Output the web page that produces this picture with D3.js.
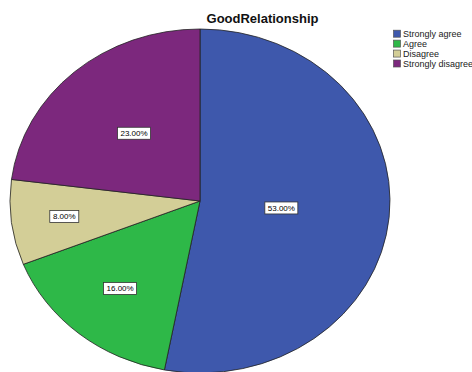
<!DOCTYPE html>
<html>
<head>
<meta charset="utf-8">
<script src="https://cdn.jsdelivr.net/npm/d3@7"></script>
<style>
  html, body { margin: 0; padding: 0; background: #fff; }
  svg { display: block; }
</style>
</head>
<body>
<svg id="chart" width="472" height="372"></svg>
<script>
// Responses to "GoodRelationship"
const categories = ["Strongly agree", "Agree", "Disagree", "Strongly disagree"];
const percents = [53, 16, 8, 23];
const colors = ["#3E58AC", "#2EB848", "#D3CE97", "#7C287D"];
const title = "GoodRelationship";

const svg = d3.select("#chart");
const W = 472, H = 372;
const cx = 200, cy = 201, rx = 190, ry = 172;

// distance of each value label from the centre, as a share of the radius
const labelRadius = [0.43, 0.66, 0.72, 0.525];

const data = categories.map((c, i) => ({ category: c, value: percents[i], color: colors[i], lr: labelRadius[i] }));

const pie = d3.pie().sort(null).value(d => d.value).startAngle(0).endAngle(2 * Math.PI);
const arcs = pie(data);
const arc = d3.arc().innerRadius(0).outerRadius(rx);

// pie drawn as a circle and squashed vertically into an ellipse
const pieG = svg.append("g")
  .attr("transform", `translate(${cx},${cy}) scale(1,${ry / rx})`);

pieG.selectAll("path")
  .data(arcs)
  .enter().append("path")
  .attr("d", arc)
  .attr("fill", d => d.data.color)
  .attr("stroke", "#222")
  .attr("stroke-width", 0.8)
  .attr("vector-effect", "non-scaling-stroke");

// value labels in white boxes
const fmt = d3.format(".2f");
const labels = svg.append("g").selectAll("g")
  .data(arcs)
  .enter().append("g")
  .attr("transform", d => {
    const a = (d.startAngle + d.endAngle) / 2;
    const x = cx + Math.sin(a) * rx * d.data.lr;
    const y = cy - Math.cos(a) * ry * d.data.lr;
    return `translate(${x},${y})`;
  });

labels.each(function(d) {
  const g = d3.select(this);
  const rect = g.append("rect");
  const t = g.append("text")
    .attr("text-anchor", "middle")
    .attr("dy", "0.35em")
    .attr("font-family", "Liberation Sans, Arial, sans-serif")
    .attr("font-size", 8)
    .attr("fill", "#000")
    .text(fmt(d.data.value) + "%");
  const bb = t.node().getBBox();
  const w = Math.round(bb.width) + 6, h = 12;
  rect.attr("x", -w / 2).attr("y", -h / 2)
    .attr("width", w).attr("height", h)
    .attr("fill", "#fff")
    .attr("stroke", "#333")
    .attr("stroke-width", 0.8);
});

// title
svg.append("text")
  .attr("x", 262.5)
  .attr("y", 23)
  .attr("text-anchor", "middle")
  .attr("font-family", "Liberation Sans, Arial, sans-serif")
  .attr("font-weight", "bold")
  .attr("font-size", 13)
  .attr("fill", "#111")
  .text(title);

// legend
const legendY = d3.scalePoint().domain(categories).range([33.7, 63.5]);
const legend = svg.append("g").selectAll("g")
  .data(data)
  .enter().append("g")
  .attr("transform", d => `translate(393,${legendY(d.category)})`);

legend.append("rect")
  .attr("x", 0.5).attr("y", -3.5)
  .attr("width", 7).attr("height", 7)
  .attr("fill", d => d.color)
  .attr("stroke", "#555")
  .attr("stroke-width", 0.7);

legend.append("text")
  .attr("x", 10)
  .attr("y", 0)
  .attr("dy", "0.35em")
  .attr("font-family", "Liberation Sans, Arial, sans-serif")
  .attr("font-size", 9)
  .attr("fill", "#222")
  .text(d => d.category);
</script>
</body>
</html>
